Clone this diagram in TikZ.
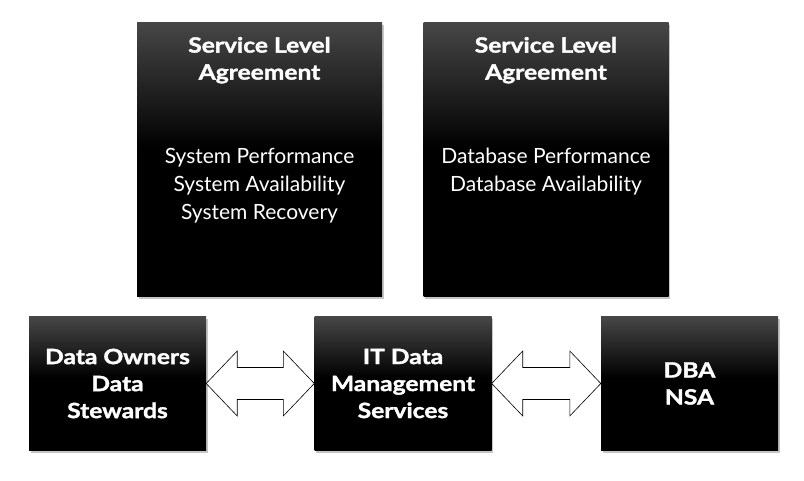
\documentclass[tikz,border=0pt]{standalone}
\usepackage{fontspec}
\setmainfont{Lato}
\newfontfamily\heavyfont{Lato}[UprightFeatures={FakeBold=1.6, FakeStretch=1.17}, BoldFeatures={FakeBold=1.6, FakeStretch=1.17}]
\usetikzlibrary{shadows,calc}
\definecolor{boxtop}{RGB}{70,70,70}
\pgfdeclareverticalshading{boxshade}{100bp}{color(0bp)=(black); color(25bp)=(black); color(52bp)=(black); color(75bp)=(boxtop); color(100bp)=(boxtop)}
\tikzset{
  blackbox/.style={rectangle, inner sep=0pt, shading=boxshade,
    drop shadow={opacity=0.45, shadow xshift=1.5pt, shadow yshift=-2.5pt}},
  bigbox/.style={blackbox, minimum width=245pt, minimum height=274pt},
  smallbox/.style={blackbox, minimum width=177pt, minimum height=133pt,
    text=white, font=\fontsize{21}{27}\selectfont\heavyfont\bfseries, align=center},
  boxtitle/.style={text=white, font=\fontsize{21}{27}\selectfont\heavyfont\bfseries, align=center, inner sep=0pt, anchor=north},
  boxbody/.style={text=white, font=\fontsize{21}{28}\selectfont, align=center, inner sep=0pt, anchor=north},
  fatarrow/.style={draw=black, fill=white, line width=0.6pt, line join=miter},
}
\begin{document}
\begin{tikzpicture}[x=1pt, y=-1pt]
\useasboundingbox (0,0) rectangle (804,481);
% top boxes
\node[bigbox] (sla1) at (259.5,160) {};
\node[bigbox] (sla2) at (546,160) {};
\node[boxtitle] (t1) at ($(sla1.north)+(0,14)$) {Service Level\\Agreement};
\node[boxtitle] (t2) at ($(sla2.north)+(0,14)$) {Service Level\\Agreement};
\node[boxbody] (b1) at ($(sla1.north)+(0,125)$) {System Performance\\System Availability\\System Recovery};
\node[boxbody] (b2) at ($(sla2.north)+(0,125)$) {Database Performance\\Database Availability};
% bottom boxes
\node[smallbox] (own) at (117.5,383.5) {Data Owners\\Data\\Stewards};
\node[smallbox] (itd) at (403,383.5) {IT Data\\Management\\Services};
\node[smallbox] (dba) at (689.5,383.5) {DBA\\NSA};
% double arrows
\draw[fatarrow] (own.east) -- ++(31,-32.5) -- ++(0,16.5) -- ($(itd.west)+(-31,-16)$)
  -- ++(0,-16.5) -- (itd.west) -- ++(-31,32.5) -- ++(0,-16.5) -- ($(own.east)+(31,16)$)
  -- ++(0,16.5) -- cycle;
\draw[fatarrow] (itd.east) -- ++(31,-32.5) -- ++(0,16.5) -- ($(dba.west)+(-31,-16)$)
  -- ++(0,-16.5) -- (dba.west) -- ++(-31,32.5) -- ++(0,-16.5) -- ($(itd.east)+(31,16)$)
  -- ++(0,16.5) -- cycle;
\end{tikzpicture}
\end{document}
